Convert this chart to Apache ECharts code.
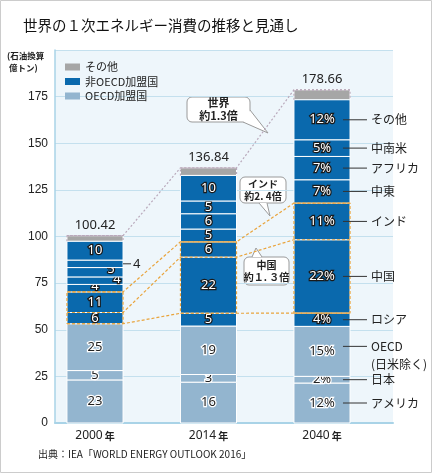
<!DOCTYPE html>
<html>
<head>
<meta charset="utf-8">
<script src="https://cdn.jsdelivr.net/npm/echarts@6/dist/echarts.min.js"></script>
<style>
  html, body { margin: 0; padding: 0; background: #fff; }
  #main { width: 432px; height: 473px; }
</style>
</head>
<body>
<div id="main"></div>
<script>
// データ（単位：億トン、構成比は％）
const years = ['2000', '2014', '2040'];
const totals = [100.42, 136.84, 178.66];
const regionNames = ['アメリカ', '日本', 'OECD\n(日米除く)', 'ロシア', '中国', 'インド', '中東', 'アフリカ', '中南米', 'その他'];
const regionGroups = ['OECD加盟国', 'OECD加盟国', 'OECD加盟国', '非OECD加盟国', '非OECD加盟国', '非OECD加盟国', '非OECD加盟国', '非OECD加盟国', '非OECD加盟国', '非OECD加盟国'];
const shares2000 = [23, 5, 25, 6, 11, 4, 4, 5, 4, 10];
const shares2014 = [16, 3, 19, 5, 22, 6, 5, 6, 5, 10];
const shares2040 = [12, 2, 15, 4, 22, 11, 7, 7, 5, 12];
const boxStart = [3, 4, 4]; // オレンジ点線で囲む2区間の先頭
const legendNames = ['その他', '非OECD加盟国', 'OECD加盟国'];

const BLUE = '#0a69ad';
const LIGHT = '#93b5cf';
const GRAY = '#a6a6a6';
const ORANGE = '#e9a43c';
const JP = '"Noto Sans CJK JP", sans-serif';
const NUM = '"Noto Sans", sans-serif';
const halfBar = 0.247; // 棒の半幅（x軸単位）

const shares = [shares2000, shares2014, shares2040];
const segValues = shares.map((s, i) => s.map(p => p * totals[i] / 100));
const cum = segValues.map(v => {
  let acc = 0;
  return [0].concat(v.map(x => (acc += x)));
});
const last = regionNames.length;

// 2000年の小さい区間のラベルずらし
const small2000 = { 5: [0, -2], 6: [22, -1], 7: [16, -3] };

function segSeries(name, color, labelFn, r) {
  return {
    type: 'custom',
    name: name,
    itemStyle: { color: color },
    z: 2,
    encode: { x: 0, y: [1, 2] },
    data: years.map((y, i) => (r < last ? [i, cum[i][r], cum[i][r + 1]] : [i, cum[i][last], totals[i]])),
    renderItem: (params, api) => {
      const i = api.value(0), lo = api.value(1), hi = api.value(2);
      const a = api.coord([i - halfBar, hi]);
      const b = api.coord([i + halfBar, lo]);
      const cx = (a[0] + b[0]) / 2, cy = (a[1] + b[1]) / 2;
      const children = [{
        type: 'rect',
        shape: { x: a[0], y: a[1], width: b[0] - a[0], height: b[1] - a[1] },
        style: { fill: color, stroke: '#fff', lineWidth: 1 }
      }];
      const txt = labelFn(i);
      if (r === last) {
        children.push({ type: 'text', x: cx, y: a[1] - 4, style: { text: txt, fill: '#222', font: '13px ' + NUM, align: 'center', verticalAlign: 'bottom' } });
      } else if (i === 0 && r === 8) {
        children.push({ type: 'line', shape: { x1: b[0], y1: cy, x2: b[0] + 8, y2: cy }, style: { stroke: '#333', lineWidth: 1 } });
        children.push({ type: 'text', x: b[0] + 10, y: cy, style: { text: txt, fill: '#222', font: '13px ' + NUM, verticalAlign: 'middle' } });
      } else {
        const off = (i === 0 && small2000[r]) || [0, 0];
        const dark = r >= 3;
        children.push({
          type: 'text', x: cx + off[0], y: cy + off[1],
          style: {
            text: txt, font: '13px ' + NUM, align: 'center', verticalAlign: 'middle',
            fill: dark ? '#fff' : '#222', stroke: dark ? '#1a1a1a' : '#fff', lineWidth: 2.5, strokeFirst: true
          }
        });
      }
      return { type: 'group', children: children };
    }
  };
}

const series = [];
regionNames.forEach((n, r) => {
  series.push(segSeries(regionGroups[r], r < 3 ? LIGHT : BLUE, i => shares[i][r] + (i === 2 ? '%' : ''), r));
});
series.unshift(segSeries('その他', GRAY, i => totals[i].toFixed(2), last));

function dashLine(data, color, dash) {
  return {
    type: 'line', data: data, symbol: 'none', silent: true, z: 5,
    animation: false, legendHoverLink: false,
    lineStyle: { color: color, width: 1.2, type: dash }
  };
}

// 棒をつなぐ点線
function levelLine(levels) {
  const d = [];
  levels.forEach((v, i) => { d.push([i - halfBar, v]); d.push([i + halfBar, v]); });
  return d;
}
for (let k = 0; k < 3; k++) {
  series.push(dashLine(levelLine(years.map((y, i) => cum[i][boxStart[i] + k])), ORANGE, [3, 2]));
}
years.forEach((y, i) => {
  const lo = cum[i][boxStart[i]], hi = cum[i][boxStart[i] + 2];
  series.push(dashLine([[i - halfBar, lo], [i + halfBar, lo], [i + halfBar, hi], [i - halfBar, hi], [i - halfBar, lo]], ORANGE, [3, 2]));
  series.push(dashLine([[i - halfBar, cum[i][last]], [i - halfBar, totals[i]], [i + halfBar, totals[i]], [i + halfBar, cum[i][last]]], '#b9a9bb', [2, 2]));
});
series.push(dashLine(levelLine(totals), '#b9a9bb', [2, 2]));

// 2040年の地域名
series.push({
  type: 'custom',
  silent: true,
  z: 6,
  data: regionNames.map((n, r) => [2, (cum[2][r] + cum[2][r + 1]) / 2]),
  renderItem: (params, api) => {
    const p = api.coord([api.value(0), api.value(1)]);
    const name = regionNames[params.dataIndex];
    const multi = name.indexOf('\n') >= 0;
    const ly = p[1] - (multi ? 5 : 0);
    return {
      type: 'group',
      children: [
        { type: 'line', shape: { x1: p[0] + 21, y1: ly, x2: p[0] + 45, y2: ly }, style: { stroke: '#333', lineWidth: 1 } },
        {
          type: 'text', x: p[0] + 49, y: multi ? ly - 9 : ly,
          style: { text: name, fill: '#222', font: '12px ' + JP, verticalAlign: multi ? 'top' : 'middle', lineHeight: 18 }
        }
      ]
    };
  }
});

function bubble(x, y, w, h, base, tip, lines, size) {
  return {
    type: 'group', z: 20,
    children: [
      { type: 'rect', shape: { x: x, y: y, width: w, height: h, r: 5 }, style: { fill: '#fff', stroke: '#9a9a9a', lineWidth: 1 } },
      { type: 'polygon', shape: { points: [base[0], tip, base[1]] }, style: { fill: '#fff' } },
      { type: 'polyline', shape: { points: [base[0], tip, base[1]] }, style: { stroke: '#9a9a9a', lineWidth: 1, fill: null } },
      {
        type: 'text', x: x + w / 2, y: y + h / 2,
        style: { text: lines, fill: '#222', font: 'bold ' + size + 'px ' + JP, align: 'center', verticalAlign: 'middle', lineHeight: size + 2 }
      }
    ]
  };
}

const chart = echarts.init(document.getElementById('main'));
chart.setOption({
  animation: false,
  title: {
    text: '世界の１次エネルギー消費の推移と見通し',
    left: 18, top: 13,
    textStyle: { fontSize: 14.5, fontWeight: 'normal', color: '#111', fontFamily: JP }
  },
  legend: {
    data: legendNames,
    orient: 'vertical',
    left: 60, top: 56,
    itemWidth: 15, itemHeight: 7, itemGap: 2.5,
    icon: 'rect',
    selectedMode: false,
    textStyle: { fontSize: 11, color: '#222', fontFamily: JP, lineHeight: 12 }
  },
  grid: {
    left: 55, right: 39, top: 50, bottom: 50,
    show: true, backgroundColor: '#eef6fb', borderWidth: 0
  },
  xAxis: {
    type: 'value',
    min: -0.3524, max: 2.6256,
    axisLine: { onZero: false, lineStyle: { color: '#a9d3e7', width: 2 } },
    axisTick: { show: false },
    splitLine: { show: false },
    axisLabel: {
      customValues: [0, 1, 2],
      margin: 7,
      formatter: v => '{y|' + years[Math.round(v)] + '}{n|年}',
      rich: {
        y: { fontSize: 12, color: '#222', fontFamily: NUM },
        n: { fontSize: 10, color: '#222', fontFamily: JP, fontWeight: 'bold', padding: [0, 0, 0, 2] }
      }
    }
  },
  yAxis: {
    type: 'value',
    min: 0, max: 200, interval: 25,
    axisLine: { show: true, onZero: false, lineStyle: { color: '#a9d3e7', width: 1.5 } },
    axisTick: { show: false },
    splitLine: { lineStyle: { color: '#c4e0ee', width: 1 } },
    axisLabel: {
      margin: 7, fontSize: 12, color: '#222', fontFamily: '"Liberation Sans", sans-serif',
      formatter: v => (v === 200 ? '' : v)
    }
  },
  graphic: [
    { type: 'rect', shape: { x: 0.5, y: 0.5, width: 431, height: 472 }, style: { fill: null, stroke: '#cccccc', lineWidth: 1 }, z: 30 },
    { type: 'text', left: 7, top: 50, style: { text: '(石油換算\n 億トン)', fill: '#222', font: 'bold 8.5px ' + JP, lineHeight: 12 } },
    { type: 'text', left: 38, top: 449, style: { text: '出典：IEA「WORLD ENERGY OUTLOOK 2016」', fill: '#222', font: '10px ' + JP } },
    bubble(187, 97, 63, 25, [[250, 110], [243, 122]], [268, 133], '世界\n約1.3倍', 11),
    bubble(240, 177, 46, 26, [[259, 203], [267, 203]], [270, 216], 'インド\n約2. 4倍', 10),
    bubble(244, 257, 45, 28, [[252, 257], [262, 257]], [256, 248], '中国\n約１. ３倍', 10)
  ],
  series: series
});
</script>
</body>
</html>
